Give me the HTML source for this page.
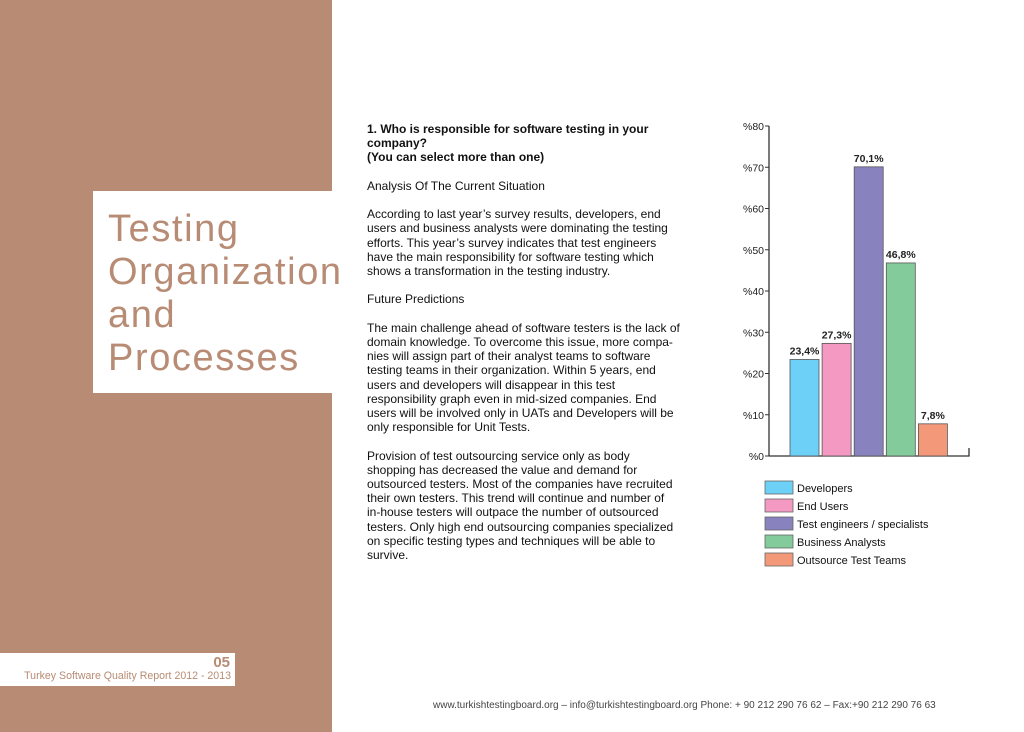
<!DOCTYPE html>
<html><head><meta charset="utf-8"><style>
body{margin:0;width:1024px;height:732px;background:#fff;position:relative;overflow:hidden;font-family:"Liberation Sans",sans-serif;}
.side{position:absolute;left:0;top:0;width:332px;height:732px;background:#b78b74;}
.tbox{position:absolute;left:93px;top:191px;width:239px;height:202px;background:#fff;}
.title{position:absolute;left:108px;top:208px;font-size:38px;line-height:43px;color:#b78b74;letter-spacing:1.6px;white-space:nowrap;}
.fbox{position:absolute;left:0;top:653px;width:235px;height:33px;background:#fff;}
.pg{position:absolute;right:5px;top:1px;font-size:15px;font-weight:bold;color:#b78b74;}
.rep{position:absolute;right:4px;top:17px;font-size:10.6px;color:#b78b74;white-space:nowrap;}
.txt{position:absolute;left:367px;top:122px;width:330px;font-size:12px;line-height:14.2px;color:#111;white-space:nowrap;}
.foot{position:absolute;left:433px;top:700px;font-size:10px;color:#444;white-space:nowrap;}
</style></head><body>
<div class="side"></div>
<div class="tbox"></div>
<div class="title">Testing<br>Organization<br>and<br>Processes</div>
<div class="fbox"><div class="pg">05</div><div class="rep">Turkey Software Quality Report 2012 - 2013</div></div>
<div class="txt"><b>1. Who is responsible for software testing in your<br>company?<br>(You can select more than one)</b><br><br>Analysis Of The Current Situation<br><br>According to last year’s survey results, developers, end<br>users and business analysts were dominating the testing<br>efforts. This year’s survey indicates that test engineers<br>have the main responsibility for software testing which<br>shows a transformation in the testing industry.<br><br>Future Predictions<br><br>The main challenge ahead of software testers is the lack of<br>domain knowledge. To overcome this issue, more compa-<br>nies will assign part of their analyst teams to software<br>testing teams in their organization. Within 5 years, end<br>users and developers will disappear in this test<br>responsibility graph even in mid-sized companies. End<br>users will be involved only in UATs and Developers will be<br>only responsible for Unit Tests.<br><br>Provision of test outsourcing service only as body<br>shopping has decreased the value and demand for<br>outsourced testers. Most of the companies have recruited<br>their own testers. This trend will continue and number of<br>in-house testers will outpace the number of outsourced<br>testers. Only high end outsourcing companies specialized<br>on specific testing types and techniques will be able to<br>survive.</div>
<div class="foot">www.turkishtestingboard.org – info@turkishtestingboard.org Phone: + 90 212 290 76 62 – Fax:+90 212 290 76 63</div>
<svg id="chart" width="1024" height="732" style="position:absolute;left:0;top:0"></svg>
<script>
const categories=["Developers","End Users","Test engineers / specialists","Business Analysts","Outsource Test Teams"];
const values=[23.4,27.3,70.1,46.8,7.8];
const valueLabels=["23,4%","27,3%","70,1%","46,8%","7,8%"];
const colors=["#6dd0f6","#f49ac2","#8882be","#84cb9b","#f4987a"];
const ticks=[0,10,20,30,40,50,60,70,80];
const tickLabels=["%0","%10","%20","%30","%40","%50","%60","%70","%80"];
const NS="http://www.w3.org/2000/svg",svg=document.getElementById("chart");
const y=v=>456-v*(330/80), x=i=>790+i*32.1, bw=29;
function mk(t,a,txt){const e=document.createElementNS(NS,t);for(const k in a)e.setAttribute(k,a[k]);if(txt!=null)e.textContent=txt;svg.appendChild(e);return e;}
let e=mk("line",{x1:769,y1:126,x2:769,y2:456,stroke:"#333","stroke-width":1.3});

e=mk("polyline",{points:"769,456 969,456 969,448",fill:"none",stroke:"#333","stroke-width":1.3});

ticks.forEach((t,i)=>{
 e=mk("line",{x1:765,y1:y(t),x2:769,y2:y(t),stroke:"#333"});
 
 e=mk("text",{x:764,y:y(t)+4,"text-anchor":"end","font-size":10.5,fill:"#222","font-family":"Liberation Sans"},tickLabels[i]);
 
});
values.forEach((v,i)=>{
 e=mk("rect",{x:x(i),y:y(v),width:bw,height:456-y(v),fill:colors[i],stroke:"#555","stroke-width":0.8});
 
 e=mk("text",{x:x(i)+bw/2,y:y(v)-5,"text-anchor":"middle","font-size":10.5,"font-weight":"bold",fill:"#222","font-family":"Liberation Sans"},valueLabels[i]);
 
 e=mk("rect",{x:765,y:481+i*18,width:28,height:13,fill:colors[i],stroke:"#666","stroke-width":0.8});
 
 e=mk("text",{x:797,y:492+i*18,"font-size":11,fill:"#111","font-family":"Liberation Sans"},categories[i]);
 
});
</script>
</body></html>
